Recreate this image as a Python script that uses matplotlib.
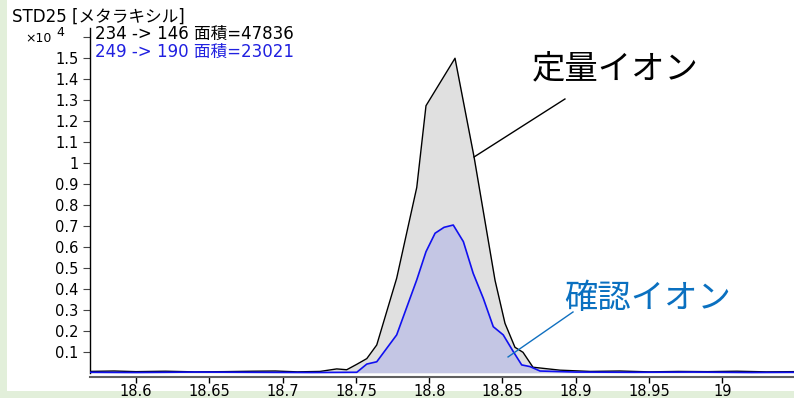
import matplotlib
matplotlib.use("Agg")
import matplotlib.pyplot as plt
from matplotlib.patches import Rectangle

plt.rcParams['font.family'] = ['DejaVu Sans', 'Noto Sans CJK JP']

# クロマトグラム (保持時間 [min], 強度 x10^4)
quant_t = [18.568, 18.585, 18.60, 18.62, 18.64, 18.66, 18.68, 18.695, 18.71, 18.7255,
           18.7369, 18.7437, 18.7506, 18.7574, 18.7642, 18.7778, 18.7915, 18.7978,
           18.8176, 18.8306, 18.8449, 18.8517, 18.8585, 18.864, 18.8708, 18.8892,
           18.91, 18.93, 18.95, 18.97, 18.99, 19.01, 19.03, 19.049]
quant_y = [0.006, 0.008, 0.005, 0.007, 0.004, 0.005, 0.007, 0.008, 0.004, 0.006,
           0.018, 0.014, 0.040, 0.067, 0.132, 0.450, 0.882, 1.271,
           1.497, 1.027, 0.440, 0.235, 0.121, 0.097, 0.026, 0.012,
           0.006, 0.008, 0.004, 0.006, 0.005, 0.007, 0.004, 0.005]

qual_t = [18.568, 18.60, 18.64, 18.68, 18.72, 18.7506, 18.7574, 18.7642, 18.7778,
          18.7915, 18.7978, 18.804, 18.8101, 18.8164, 18.8233, 18.83, 18.8369,
          18.8437, 18.8505, 18.8574, 18.8631, 18.8688, 18.8756, 18.90, 18.94,
          18.98, 19.02, 19.049]
qual_y = [0.002, 0.001, 0.003, 0.002, 0.001, 0.002, 0.041, 0.052, 0.180,
          0.442, 0.576, 0.664, 0.692, 0.703, 0.624, 0.473, 0.354,
          0.219, 0.180, 0.100, 0.037, 0.029, 0.008, 0.003, 0.002,
          0.003, 0.001, 0.002]

x_ticks = [18.6, 18.65, 18.7, 18.75, 18.8, 18.85, 18.9, 18.95, 19.0]
x_labels = ['18.6', '18.65', '18.7', '18.75', '18.8', '18.85', '18.9', '18.95', '19']
y_ticks = [0.1, 0.2, 0.3, 0.4, 0.5, 0.6, 0.7, 0.8, 0.9, 1.0, 1.1, 1.2, 1.3, 1.4, 1.5, 1.6]
y_labels = ['0.1', '0.2', '0.3', '0.4', '0.5', '0.6', '0.7', '0.8', '0.9', '1',
            '1.1', '1.2', '1.3', '1.4', '1.5', '']

W, H = 794, 398
fig = plt.figure(figsize=(W / 100, H / 100), dpi=100)
fig.patch.set_facecolor('#e2efda')
fig.patches.append(Rectangle((7 / W, 7 / H), 1, 1, transform=fig.transFigure,
                             facecolor='white', edgecolor='none', zorder=-10))

ax = fig.add_axes([89.5 / W, 21 / H, 1 - 89.5 / W, 349 / H])
ax.set_facecolor('none')

ax.fill_between(quant_t, quant_y, 0, color='#e0e0e0', lw=0, zorder=1)
ax.fill_between(qual_t, qual_y, 0, color='#c4c6e4', lw=0, zorder=2)
ax.plot(quant_t, quant_y, color='black', lw=1.0, zorder=3)
ax.plot(qual_t, qual_y, color='#1010f0', lw=1.2, zorder=4)

ax.set_xlim(18.5682, 19.0489)
ax.set_ylim(-0.0205, 1.641)

ax.set_xticks(x_ticks)
ax.set_xticklabels(x_labels)
ax.set_yticks(y_ticks)
ax.set_yticklabels(y_labels)
ax.tick_params(axis='x', direction='out', length=4, width=1, pad=1, labelsize=10.5)
ax.tick_params(axis='y', direction='out', length=5, width=0.8, pad=3, labelsize=10.5,
               color='#444444')

for s in ['top', 'right']:
    ax.spines[s].set_visible(False)
ax.spines['left'].set_bounds(0, 1.641)
ax.spines['left'].set_linewidth(1.0)
ax.spines['bottom'].set_color('#606060')
ax.spines['bottom'].set_linewidth(1.5)

# 定量イオン / 確認イオン の引き出し線
ax.plot([18.8306, 18.8926], [1.027, 1.303], color='black', lw=1.0, zorder=5)
ax.text(18.9267, 1.445, '定量イオン', fontsize=24, color='black',
        ha='center', va='center', zorder=5)
ax.plot([18.8538, 18.8981], [0.075, 0.289], color='#1070c0', lw=1.0, zorder=5)
ax.text(18.9493, 0.351, '確認イオン', fontsize=24, color='#0a70c0',
        ha='center', va='center', zorder=5)


def ftext(x, y, s, **kw):
    fig.text(x / W, 1 - y / H, s, va='center', **kw)


ftext(12, 16.5, 'STD25 [メタラキシル]', fontsize=12)
ftext(52, 38, '×10', fontsize=9, ha='right')
ftext(56, 33, '4', fontsize=9)
ftext(95, 34.3, '234 -> 146 面積=47836', fontsize=12)
ftext(95, 51.7, '249 -> 190 面積=23021', fontsize=12, color='#2020e0')

fig.savefig('out.png', dpi=100)
